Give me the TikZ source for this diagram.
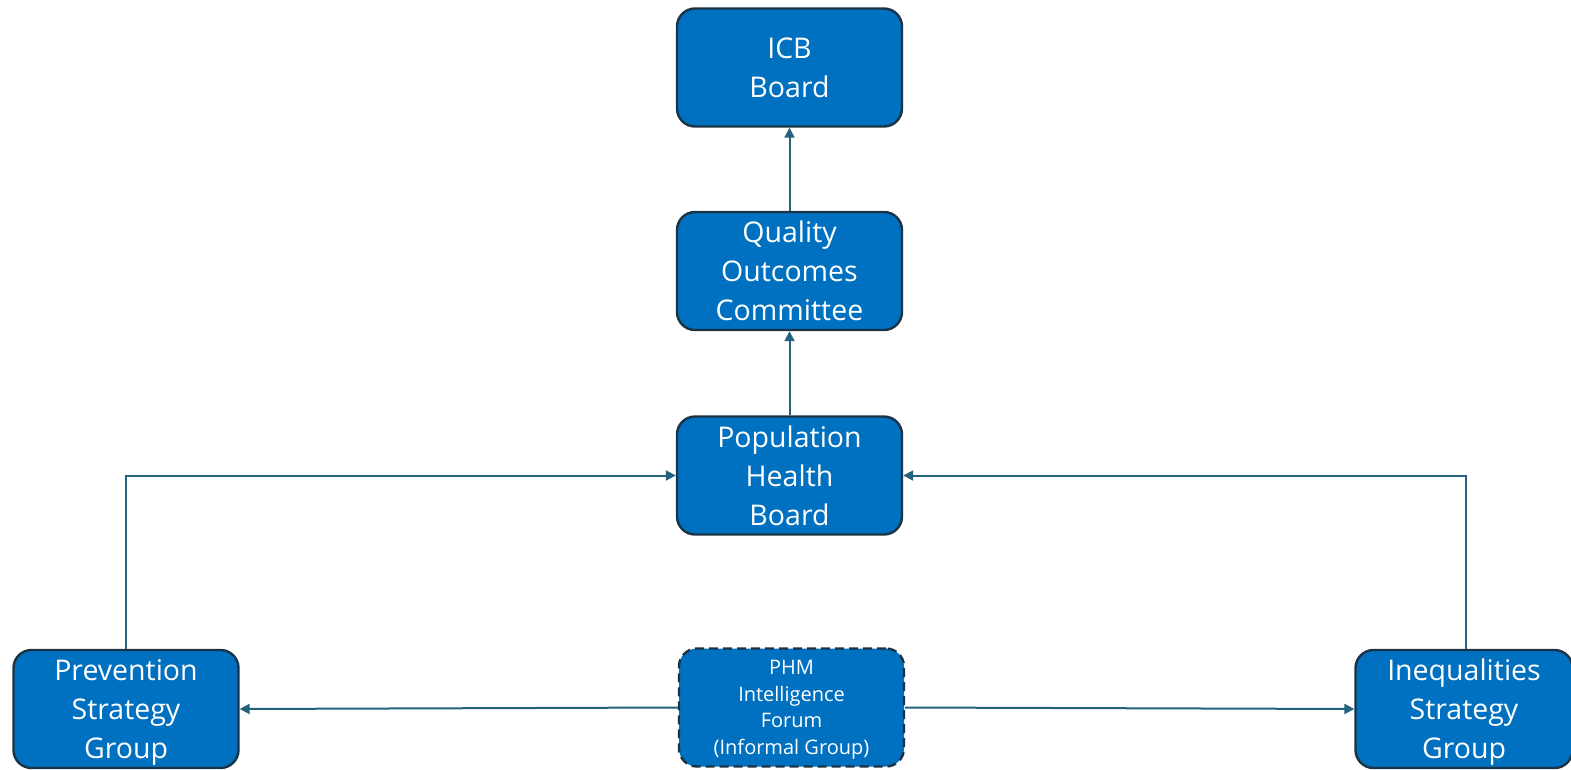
\documentclass[tikz,border=0pt]{standalone}
\usepackage{fontspec}
\setmainfont{Open Sans}
\usetikzlibrary{arrows.meta}
\definecolor{boxfill}{HTML}{0070C0}
\definecolor{boxline}{HTML}{1A3446}
\definecolor{arrowc}{HTML}{25627E}
\begin{document}
\begin{tikzpicture}[x=1pt,y=-1pt,
  box/.style={draw=boxline, line width=2.4pt, fill=boxfill, rounded corners=18pt,
    minimum width=225pt, minimum height=118pt, text=white, align=center, inner sep=0pt,
    font=\fontsize{28.5}{39}\selectfont},
  conn/.style={draw=arrowc, line width=2pt, -{Triangle[length=10pt,width=10pt]}}]
\useasboundingbox (0,0) rectangle (1571,769);
\node[box] (icb) at (789.5,67.5) {ICB\\Board};
\node[box] (qoc) at (789.5,271) {Quality\\Outcomes\\Committee};
\node[box] (phb) at (789.5,475.5) {Population\\Health\\Board};
\node[box, text depth=0pt] (prev) at (126,709) {Prevention\\Strategy\\Group};
\node[box, dashed, dash pattern=on 9pt off 5pt, text depth=-10pt, font=\fontsize{20}{26.5}\selectfont] (phm) at (791.5,707.5) {PHM\\Intelligence\\Forum\\(Informal Group)};
\node[box, text depth=0pt, minimum width=217pt] (ineq) at (1464,709) {Inequalities\\Strategy\\Group};
\draw[conn] (qoc.north) -- (icb.south);
\draw[conn] (phb.north) -- (qoc.south);
\draw[conn] (prev.north) |- (phb.west);
\draw[conn] (ineq.north -| 1466,0) |- (phb.east);
\draw[conn] (phm.west) -- (prev.east);
\draw[conn] (phm.east) -- (ineq.west);
\end{tikzpicture}
\end{document}
